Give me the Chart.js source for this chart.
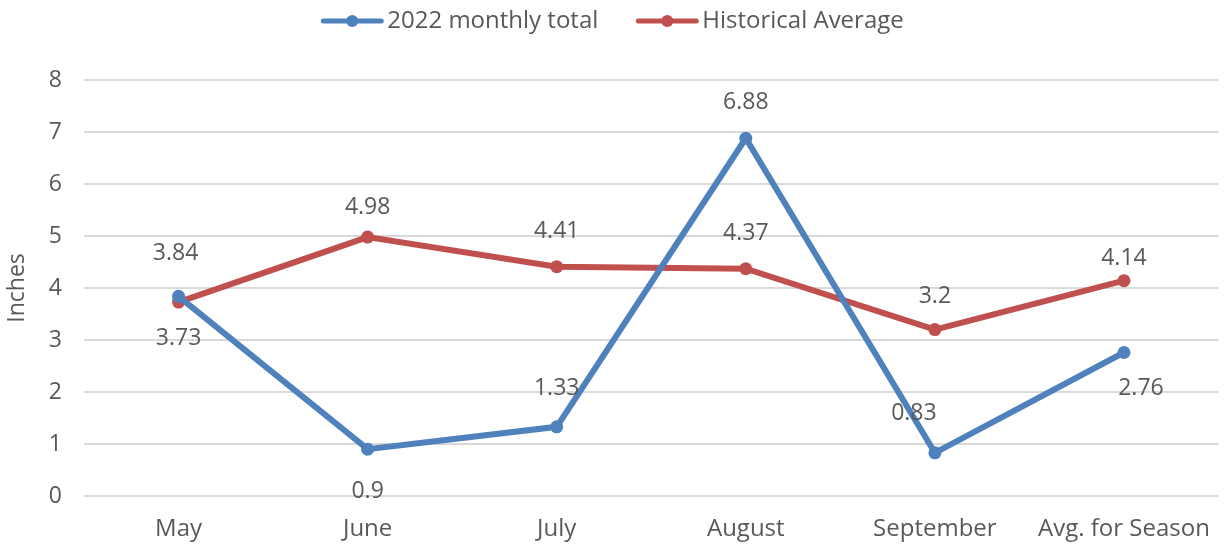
<!DOCTYPE html>
<html>
<head>
<meta charset="utf-8">
<script src="https://cdn.jsdelivr.net/npm/chart.js@4/dist/chart.umd.min.js"></script>
<style>
  html, body { margin: 0; padding: 0; background: #fff; }
  #chart { display: block; }
</style>
</head>
<body>
<canvas id="chart" width="1225" height="544"></canvas>
<script>
// data
const months = ['May', 'June', 'July', 'August', 'September', 'Avg. for Season'];
const total2022 = [3.84, 0.9, 1.33, 6.88, 0.83, 2.76];
const histAvg = [3.73, 4.98, 4.41, 4.37, 3.2, 4.14];
const yTicks = [0, 1, 2, 3, 4, 5, 6, 7, 8];

const BLUE = '#4f81bd';
const RED = '#c0504d';
const TXT = '#595959';
const FONT = '"Open Sans", sans-serif';

// label offsets (dx, dy in px from the point)
const blueLabelPos = [[-3, -43], [0, 42], [0, -38], [0, -36], [-21, -39], [17, 36]];
const redLabelPos = [[0, 36], [0, -30], [0, -35], [0, -35], [0, -33], [0, -22]];

// legend drawn by hand: line + dot marker, then text
const lineLegend = {
  id: 'lineLegend',
  afterDraw(chart) {
    const ctx = chart.ctx;
    const sets = chart.data.datasets;
    const markW = 62, gapText = 4, gapItem = 38, y = 21;
    ctx.save();
    ctx.font = '24px ' + FONT;
    const widths = sets.map(ds => markW + gapText + ctx.measureText(ds.label).width);
    const total = widths.reduce((a, b) => a + b, 0) + gapItem * (sets.length - 1);
    let x = chart.width / 2 - total / 2;
    sets.forEach((ds, i) => {
      ctx.strokeStyle = ds.borderColor;
      ctx.lineWidth = 5;
      ctx.lineCap = 'round';
      ctx.beginPath(); ctx.moveTo(x + 2, y); ctx.lineTo(x + markW - 2, y); ctx.stroke();
      ctx.fillStyle = ds.borderColor;
      ctx.beginPath(); ctx.arc(x + markW / 2, y, 6, 0, Math.PI * 2); ctx.fill();
      ctx.fillStyle = TXT;
      ctx.textAlign = 'left';
      ctx.textBaseline = 'middle';
      ctx.fillText(ds.label, x + markW + gapText, y);
      x += widths[i] + gapItem;
    });
    ctx.restore();
  }
};

const valueLabels = {
  id: 'valueLabels',
  afterDatasetsDraw(chart) {
    const ctx = chart.ctx;
    ctx.save();
    ctx.font = '23px ' + FONT;
    ctx.fillStyle = TXT;
    ctx.textAlign = 'center';
    ctx.textBaseline = 'middle';
    chart.data.datasets.forEach((ds, i) => {
      const meta = chart.getDatasetMeta(i);
      meta.data.forEach((pt, j) => {
        const [dx, dy] = ds.labelPos[j];
        ctx.fillText(String(ds.data[j]), pt.x + dx, pt.y + dy);
      });
    });
    ctx.restore();
  }
};

new Chart(document.getElementById('chart'), {
  type: 'line',
  data: {
    labels: months,
    datasets: [
      { label: '2022 monthly total', data: total2022, borderColor: BLUE, backgroundColor: BLUE,
        borderWidth: 6, pointRadius: 6.5, pointBackgroundColor: BLUE, pointBorderWidth: 0,
        labelPos: blueLabelPos },
      { label: 'Historical Average', data: histAvg, borderColor: RED, backgroundColor: RED,
        borderWidth: 6, pointRadius: 6.5, pointBackgroundColor: RED, pointBorderWidth: 0,
        labelPos: redLabelPos }
    ]
  },
  options: {
    responsive: false,
    animation: false,
    devicePixelRatio: 1,
    layout: { padding: { left: 0, right: 2, top: 80, bottom: 0 } },
    plugins: {
      tooltip: { enabled: false },
      legend: { display: false }
    },
    scales: {
      x: {
        offset: true,
        afterFit(axis) { axis.height = 48; axis.paddingLeft = 0; axis.paddingRight = 0; },
        grid: { display: false, drawTicks: false },
        border: { display: false },
        ticks: { color: TXT, font: { family: FONT, size: 24 }, padding: 19, maxRotation: 0, autoSkip: false }
      },
      y: {
        min: 0, max: 8,
        afterBuildTicks(axis) { axis.ticks = yTicks.map(v => ({ value: v })); },
        afterFit(axis) { axis.width = 84; },
        grid: { color: '#d9d9d9', lineWidth: 2, drawTicks: false },
        border: { display: false },
        ticks: { color: TXT, font: { family: FONT, size: 23 }, padding: 22 },
        title: { display: true, text: 'Inches', color: TXT, font: { family: FONT, size: 23 }, padding: { top: 4, bottom: 0 } }
      }
    }
  },
  plugins: [valueLabels, lineLegend]
});
</script>
</body>
</html>
